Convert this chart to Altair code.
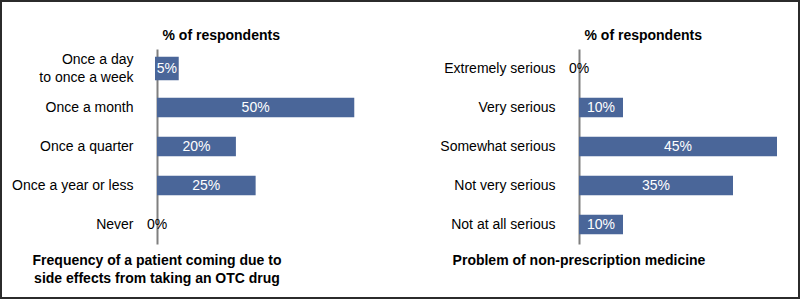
import altair as alt
import pandas as pd

left_cats = ["Once a day to once a week", "Once a month", "Once a quarter", "Once a year or less", "Never"]
left_vals = [5, 50, 20, 25, 0]
left_title = ["Frequency of a patient coming due to", "side effects from taking an OTC drug"]

right_cats = ["Extremely serious", "Very serious", "Somewhat serious", "Not very serious", "Not at all serious"]
right_vals = [0, 10, 45, 35, 10]
right_title = "Problem of non-prescription medicine"

axis_title = "% of respondents"

BAR = "#4a6699"
FONT = "Liberation Sans"


def panel(cats, vals, xmax, width, title, border=False):
    df = pd.DataFrame({"cat": cats, "v": vals})
    base = alt.Chart(df).transform_calculate(
        mid="datum.v / 2", lbl="datum.v + '%'"
    )
    y = alt.Y(
        "cat:N",
        sort=cats,
        scale=alt.Scale(paddingInner=0.5, paddingOuter=0.25),
        axis=alt.Axis(
            title=None,
            ticks=False,
            labelPadding=24,
            labelFontSize=14,
            labelFont=FONT,
            labelColor="#000000",
            labelLineHeight=18,
            labelOffset={
                "condition": {"test": "datum.value == 'Once a day to once a week'", "value": -9},
                "value": 0,
            },
            domainColor="#7f7f7f",
            domainWidth=2,
            labelExpr="datum.value == 'Once a day to once a week' ? ['Once a day', 'to once a week'] : datum.value",
        ),
    )
    x = alt.X(
        "v:Q",
        scale=alt.Scale(domain=[0, xmax], nice=False),
        axis=alt.Axis(
            orient="top",
            title=axis_title,
            labels=False,
            ticks=False,
            domain=False,
            grid=False,
            titleAnchor="start",
            titleAlign="left",
            titleX=5,
            titleFontSize=14,
            titleFontWeight="bold",
            titleFont=FONT,
            titleColor="#000000",
            titlePadding=7,
        ),
    )
    bars = base.mark_bar(color=BAR, stroke=BAR).encode(
        x=x,
        y=y,
        strokeWidth=alt.condition("datum.v > 0 && datum.v < 8", alt.value(4), alt.value(0)),
    )
    text = base.mark_text(fontSize=14, font=FONT).encode(
        x=alt.X("mid:Q"),
        y=alt.Y("cat:N", sort=cats),
        text="lbl:N",
        color=alt.condition("datum.v == 0", alt.value("#000000"), alt.value("#ffffff")),
    )
    layers = [bars, text]
    offset = 10
    if border:
        frame = alt.Chart(pd.DataFrame({"a": [0]})).mark_rect(
            fill=None, stroke="#2b2b2b", strokeWidth=2, clip=False
        ).encode(
            x=alt.value(-156), x2=alt.value(642),
            y=alt.value(-48), y2=alt.value(249),
        )
        layers = [frame] + layers
        offset = 10 - 55
    return alt.layer(*layers).properties(
        width=width,
        height=195,
        title=alt.TitleParams(
            text=title,
            orient="bottom",
            anchor="start",
            align="center",
            frame="group",
            fontSize=14,
            fontWeight="bold",
            font=FONT,
            color="#000000",
            baseline="top",
            offset=offset,
            lineHeight=18,
        ),
    )


left = panel(left_cats, left_vals, 55, 217, left_title, border=True)
right = panel(right_cats, right_vals, 50, 220, right_title)

chart = alt.hconcat(left, right, spacing=205, bounds="flush").properties(
    padding=0, background="white"
).configure_view(stroke=None).resolve_scale(x="independent", y="independent")

chart.save("out.html", embed_options={"renderer": "svg", "actions": False})
